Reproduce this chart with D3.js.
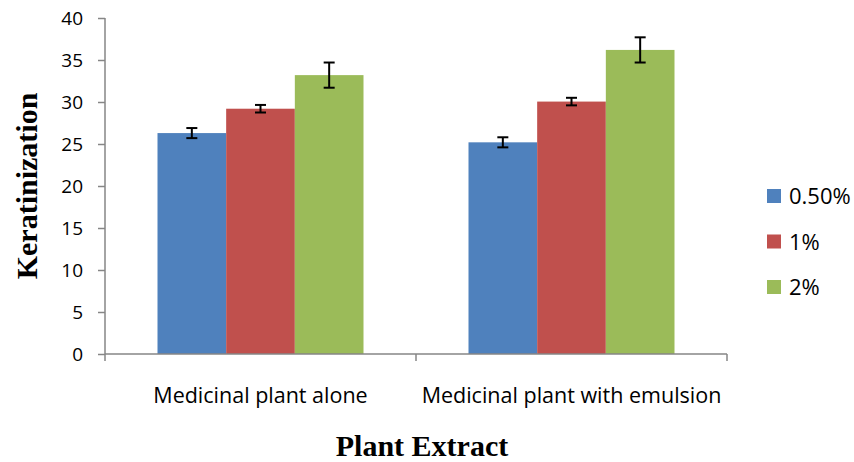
<!DOCTYPE html>
<html><head><meta charset="utf-8">
<script src="https://cdn.jsdelivr.net/npm/d3@7"></script>
<style>body{margin:0;background:#fff}svg{display:block}</style>
</head><body>
<script>
const categories = ["Medicinal plant alone", "Medicinal plant with emulsion"];
const seriesNames = ["0.50%", "1%", "2%"];
const colors = ["#4F81BD", "#C0504D", "#9BBB59"];
const values = [[26.3, 25.2], [29.2, 30.05], [33.2, 36.2]];
const errors = [[0.6, 0.6], [0.45, 0.45], [1.5, 1.5]];
const yTicks = [0, 5, 10, 15, 20, 25, 30, 35, 40];

const W = 854, H = 462;
const svg = d3.select("body").append("svg").attr("width", W).attr("height", H);
const x0 = d3.scaleBand().domain(categories).range([105, 727]).paddingInner(0).paddingOuter(0);
const y = d3.scaleLinear().domain([0, 40]).range([354, 18]);
const inner = 206;
const x1 = d3.scaleBand().domain(seriesNames).range([0, inner]);
const off = (x0.bandwidth() - inner) / 2;

const axisColor = "#868686";
const sans = "'Open Sans', sans-serif";
// y axis
const ya = svg.append("g").attr("transform", "translate(105,0)")
  .call(d3.axisLeft(y).tickValues(yTicks).tickSize(7).tickPadding(15).tickFormat(d3.format("d")));
ya.select(".domain").attr("stroke", axisColor).attr("stroke-width", 1.5).attr("d", `M0,${y(40)}V${y(0)}`);
ya.selectAll(".tick line").attr("stroke", axisColor).attr("stroke-width", 1.5);
ya.selectAll(".tick text").attr("fill", "#000").style("font-family", sans).style("font-size", "19px");

// bars
seriesNames.forEach((s, i) => {
  const g = svg.append("g");
  categories.forEach((c, j) => {
    const bx = x0(c) + off + x1(s);
    g.append("rect").attr("x", bx).attr("y", y(values[i][j]))
      .attr("width", x1.bandwidth()).attr("height", y(0) - y(values[i][j]))
      .attr("fill", colors[i]);
  });
});

// x axis
const xa = svg.append("g").attr("transform", `translate(0,${y(0)})`);
xa.append("line").attr("x1", 105).attr("x2", 727).attr("y1", 0).attr("y2", 0).attr("stroke", axisColor).attr("stroke-width", 1.5);
[105, x0(categories[1]), 727].forEach(t => {
  xa.append("line").attr("x1", t).attr("x2", t).attr("y1", 0).attr("y2", 7).attr("stroke", axisColor).attr("stroke-width", 1.5);
});
categories.forEach(c => {
  svg.append("text").attr("x", x0(c) + x0.bandwidth() / 2).attr("y", 402.5)
    .attr("text-anchor", "middle").style("font-family", sans).style("font-size", "21.5px").text(c);
});

// error bars
seriesNames.forEach((s, i) => {
  categories.forEach((c, j) => {
    const cx = x0(c) + off + x1(s) + x1.bandwidth() / 2;
    const top = y(values[i][j] + errors[i][j]), bot = y(values[i][j] - errors[i][j]);
    const g = svg.append("g").attr("stroke", "#000").attr("stroke-width", 2);
    g.append("line").attr("x1", cx).attr("x2", cx).attr("y1", top).attr("y2", bot);
    g.append("line").attr("x1", cx - 5.5).attr("x2", cx + 5.5).attr("y1", top).attr("y2", top);
    g.append("line").attr("x1", cx - 5.5).attr("x2", cx + 5.5).attr("y1", bot).attr("y2", bot);
  });
});

// legend
seriesNames.forEach((s, i) => {
  const ly = 196 + i * 45.5;
  svg.append("rect").attr("x", 767).attr("y", ly - 7).attr("width", 14).attr("height", 14).attr("fill", colors[i]);
  svg.append("text").attr("x", 789).attr("y", ly + 8).style("font-family", sans).style("font-size", "22px").text(s);
});

// titles
svg.append("text").attr("x", 422).attr("y", 456).attr("text-anchor", "middle")
  .style("font-family", "'Liberation Serif', serif").style("font-weight", "bold").style("font-size", "30px").text("Plant Extract");
svg.append("text").attr("transform", "translate(37,186) rotate(-90)").attr("text-anchor", "middle")
  .style("font-family", "'Liberation Serif', serif").style("font-weight", "bold").style("font-size", "30px").text("Keratinization");
</script>
</body></html>
